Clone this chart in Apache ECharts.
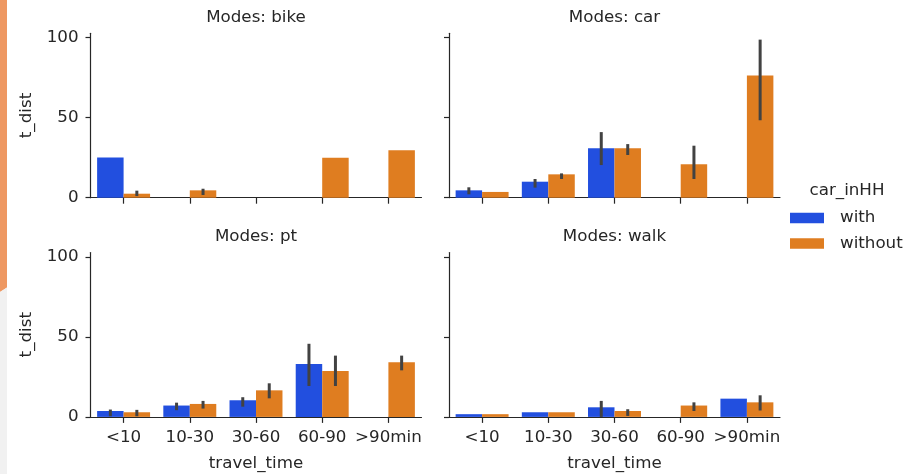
<!DOCTYPE html>
<html>
<head>
<meta charset="utf-8">
<script src="https://cdn.jsdelivr.net/npm/echarts@6/dist/echarts.min.js"></script>
<style>
  html, body { margin: 0; padding: 0; background: #fff; }
  #chart { width: 906px; height: 474px; }
</style>
</head>
<body>
<div id="chart"></div>
<script>
// travel_time categories shared by every facet
const categories = ['<10', '10-30', '30-60', '60-90', '>90min'];
const modes = ['bike', 'car', 'pt', 'walk'];
const yTicks = [0, 50, 100];

// mean t_dist per facet (null = no trips in that group)
const bikeWith      = [25.2, null, null, null, null];
const bikeWithout   = [2.5, 4.6, null, 25.0, 29.6];
const carWith       = [4.6, 10.0, 30.9, null, null];
const carWithout    = [3.6, 14.6, 30.9, 20.9, 76.3];
const ptWith        = [3.7, 7.1, 10.4, 33.0, null];
const ptWithout     = [2.9, 8.1, 16.6, 28.7, 34.1];
const walkWith      = [1.7, 2.9, 6.0, null, 11.4];
const walkWithout   = [1.7, 2.9, 3.7, 7.1, 9.1];

// confidence intervals [low, high]
const bikeWithCI    = [null, null, null, null, null];
const bikeWithoutCI = [[1.0, 4.4], [1.7, 5.6], null, null, null];
const carWithCI     = [[2.1, 6.5], [6.3, 11.7], [20.4, 41.0], null, null];
const carWithoutCI  = [null, [11.7, 15.2], [26.7, 33.5], [11.7, 32.5], [48.4, 98.8]];
const ptWithCI      = [[0.4, 4.6], [4.2, 8.9], [6.4, 12.3], [19.3, 45.7], null];
const ptWithoutCI   = [[0.4, 4.4], [5.2, 10.0], [11.6, 21.0], [19.3, 38.3], [29.1, 38.3]];
const walkWithCI    = [null, null, [0.0, 10.0], null, null];
const walkWithoutCI = [null, null, [0.6, 4.8], [3.7, 9.1], [4.0, 13.5]];

const withSets    = [bikeWith, carWith, ptWith, walkWith];
const withoutSets = [bikeWithout, carWithout, ptWithout, walkWithout];
const withCIs     = [bikeWithCI, carWithCI, ptWithCI, walkWithCI];
const withoutCIs  = [bikeWithoutCI, carWithoutCI, ptWithoutCI, walkWithoutCI];

const BLUE = '#224fdf';
const ORANGE = '#df7d20';
const INK = '#262626';
const FONT = 'DejaVu Sans';
const FS = 16.7;

// facet grid boxes: [left, top]
const gridPos = [[90.5, 33.3], [449, 33.3], [90.5, 252.5], [449, 252.5]];
const GW = 331, GH = 164.4;

const grids = gridPos.map(p => ({ left: p[0], top: p[1], width: GW, height: GH }));

const xAxes = gridPos.map((p, g) => ({
  type: 'category',
  gridIndex: g,
  data: categories,
  boundaryGap: true,
  axisLine: { show: true, lineStyle: { color: INK, width: 1.2 } },
  axisTick: { show: true, alignWithLabel: true, length: 6, lineStyle: { color: INK, width: 1.2 } },
  axisLabel: { show: g >= 2, color: INK, fontSize: FS, fontFamily: FONT, margin: 12, interval: 0 },
  splitLine: { show: false }
}));

const yAxes = gridPos.map((p, g) => ({
  type: 'value',
  gridIndex: g,
  min: 0,
  max: 102.75,
  axisLine: { show: true, lineStyle: { color: INK, width: 1.2 } },
  axisTick: { show: true, length: 5, customValues: yTicks, lineStyle: { color: INK, width: 1.2 } },
  axisLabel: { show: g % 2 === 0, customValues: yTicks, color: INK, fontSize: FS, fontFamily: FONT, margin: 12 },
  splitLine: { show: false }
}));

function barSeries(name, data, g, color) {
  return {
    type: 'bar',
    name: name,
    xAxisIndex: g,
    yAxisIndex: g,
    data: data,
    barWidth: '40%',
    barGap: '0%',
    itemStyle: { color: color, borderWidth: 0 },
    silent: true,
    animation: false
  };
}

function errorBarSeries(ci, g, side) {
  const data = [];
  ci.forEach((d, i) => { if (d) data.push([i, d[0], d[1]]); });
  return {
    type: 'custom',
    xAxisIndex: g,
    yAxisIndex: g,
    data: data,
    silent: true,
    clip: false,
    z: 5,
    animation: false,
    encode: { x: 0, y: [1, 2] },
    renderItem: function (params, api) {
      const i = api.value(0);
      const lo = api.coord([i, api.value(1)]);
      const hi = api.coord([i, api.value(2)]);
      const bw = api.size([1, 0])[0];
      const x = lo[0] + side * 0.2 * bw;
      return {
        type: 'line',
        shape: { x1: x, y1: lo[1], x2: x, y2: hi[1] },
        style: { stroke: '#424242', lineWidth: 3 }
      };
    }
  };
}

const series = [];
for (let g = 0; g < 4; g++) {
  series.push(barSeries('with', withSets[g], g, BLUE));
  series.push(barSeries('without', withoutSets[g], g, ORANGE));
  series.push(errorBarSeries(withCIs[g], g, -1));
  series.push(errorBarSeries(withoutCIs[g], g, 1));
}

function label(text, x, y, extra) {
  return Object.assign({
    type: 'text',
    x: x,
    y: y,
    silent: true,
    style: { text: text, fontSize: FS, fontFamily: FONT, fill: INK, align: 'center', verticalAlign: 'middle' }
  }, extra || {});
}

const graphics = [
  // page edge decoration
  { type: 'polygon', silent: true, shape: { points: [[0, 0], [7, 0], [7, 287.5], [0, 292]] }, style: { fill: '#ee9862' } },
  { type: 'polygon', silent: true, shape: { points: [[0, 292], [7, 287.5], [7, 474], [0, 474]] }, style: { fill: '#f1f1f1' } }
];
modes.forEach((m, g) => {
  const p = gridPos[g];
  graphics.push(label('Modes: ' + m, p[0] + GW / 2, p[1] - 16));
});
graphics.push(label('t_dist', 27, 33.3 + GH / 2, { rotation: Math.PI / 2 }));
graphics.push(label('t_dist', 27, 252.5 + GH / 2, { rotation: Math.PI / 2 }));
graphics.push(label('travel_time', 90.5 + GW / 2, 464));
graphics.push(label('travel_time', 449 + GW / 2, 464));
graphics.push(label('car_inHH', 847, 191));

const chart = echarts.init(document.getElementById('chart'), null, { renderer: 'canvas' });
chart.setOption({
  animation: false,
  backgroundColor: '#ffffff',
  grid: grids,
  xAxis: xAxes,
  yAxis: yAxes,
  series: series,
  legend: {
    data: ['with', 'without'],
    orient: 'vertical',
    left: 790,
    top: 208,
    padding: 0,
    itemWidth: 34,
    itemHeight: 10.5,
    itemGap: 5.5,
    icon: 'rect',
    selectedMode: false,
    textStyle: { color: INK, fontSize: FS, fontFamily: FONT, lineHeight: 20, padding: [0, 0, 0, 11] }
  },
  graphic: graphics
});
</script>
</body>
</html>
